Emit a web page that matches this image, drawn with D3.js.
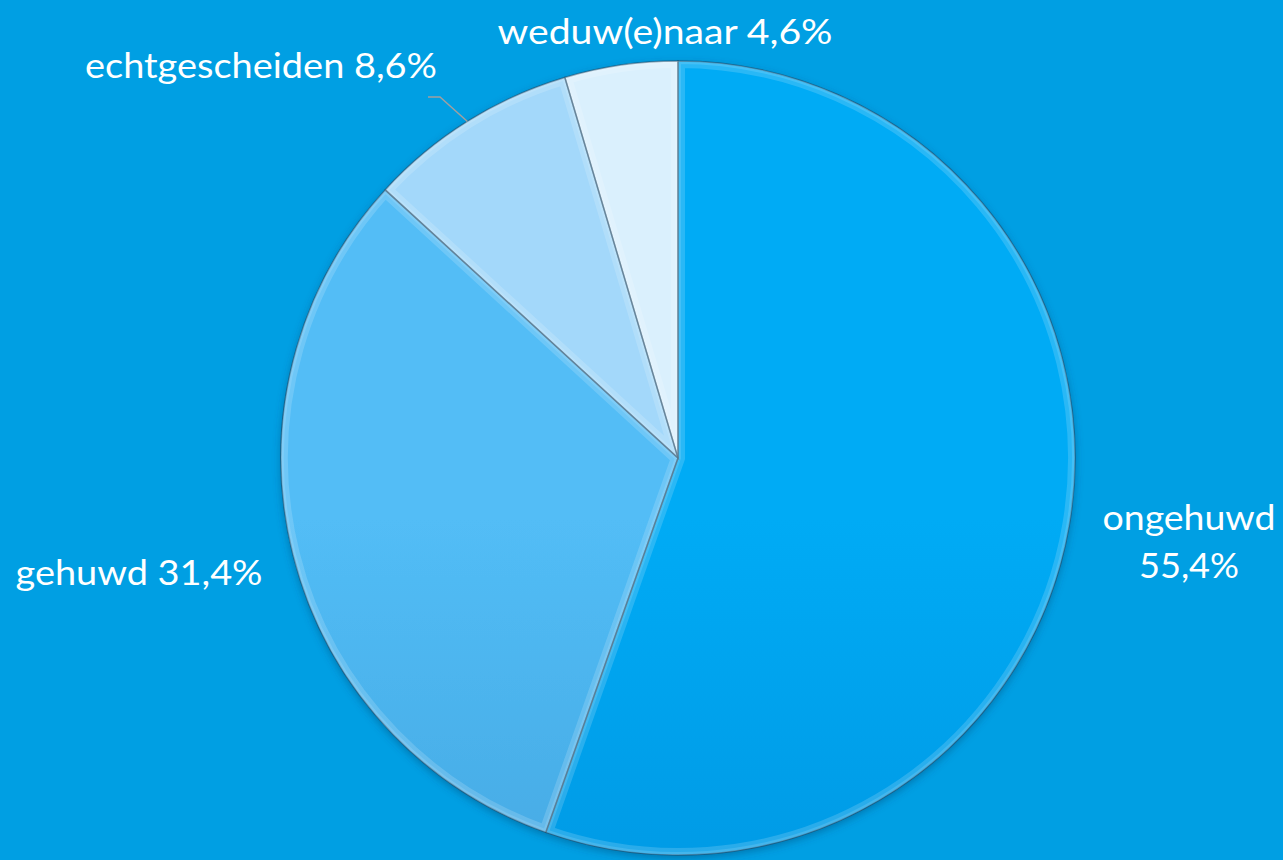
<!DOCTYPE html>
<html><head><meta charset="utf-8">
<script src="https://cdn.jsdelivr.net/npm/d3@7"></script>
<style>html,body{margin:0;padding:0;background:#009FE3;}svg{display:block}</style>
</head><body>
<svg id="c" width="1283" height="860"></svg>
<script>
const categories = ["ongehuwd", "gehuwd", "echtgescheiden", "weduw(e)naar"];
const values = [55.4, 31.4, 8.6, 4.6];
const labels = ["ongehuwd 55,4%", "gehuwd 31,4%", "echtgescheiden 8,6%", "weduw(e)naar 4,6%"];
const topColors = ["#06ABF5", "#52BDF6", "#A3D8FA", "#DAF0FD"];
const bottomColors = ["#0386D2", "#3894CF", "#88B9E2", "#AFC6DA"];

const W = 1283, H = 860, cx = 678, cy = 458, R = 397;
const svg = d3.select("#c");
svg.append("rect").attr("width", W).attr("height", H).attr("fill", "#009FE3");
const defs = svg.append("defs");

categories.forEach((c, i) => {
  const g = defs.append("linearGradient").attr("id", "g" + i)
    .attr("gradientUnits", "userSpaceOnUse")
    .attr("x1", 0).attr("y1", cy - R).attr("x2", 0).attr("y2", cy + R);
  g.append("stop").attr("offset", "0%").attr("stop-color", topColors[i]);
  g.append("stop").attr("offset", "100%").attr("stop-color", bottomColors[i]);
});
const f = defs.append("filter").attr("id", "sh").attr("x", "-10%").attr("y", "-10%").attr("width", "120%").attr("height", "120%");
f.append("feGaussianBlur").attr("in", "SourceAlpha").attr("stdDeviation", 4);
f.append("feOffset").attr("dx", 0).attr("dy", 3).attr("result", "b");
f.append("feFlood").attr("flood-color", "#00406a").attr("flood-opacity", 0.45);
f.append("feComposite").attr("in2", "b").attr("operator", "in").attr("result", "s");
const m = f.append("feMerge"); m.append("feMergeNode").attr("in", "s"); m.append("feMergeNode").attr("in", "SourceGraphic");

const pie = d3.pie().sort(null).value(d => d)(values);
const arc = d3.arc().innerRadius(0).outerRadius(R);
const g = svg.append("g").attr("transform", `translate(${cx},${cy})`);

pie.forEach((p, i) => {
  defs.append("clipPath").attr("id", "cp" + i).append("path").attr("d", arc(p)).attr("transform", `translate(${cx},${cy})`);
});

const sg = g.append("g").attr("filter", "url(#sh)");
sg.selectAll("path.s").data(pie).join("path").attr("class", "s")
  .attr("d", arc).attr("fill", (d, i) => `url(#g${i})`);

// bevel highlight inside each slice
pie.forEach((p, i) => {
  svg.append("g").attr("clip-path", `url(#cp${i})`)
    .append("path").attr("transform", `translate(${cx},${cy})`)
    .attr("d", arc(p)).attr("fill", "none")
    .attr("stroke", "#ffffff").attr("stroke-opacity", 0.16).attr("stroke-width", 14);
  svg.append("g").attr("clip-path", `url(#cp${i})`)
    .append("path").attr("transform", `translate(${cx},${cy})`)
    .attr("d", arc(p)).attr("fill", "none")
    .attr("stroke", "#ffffff").attr("stroke-opacity", 0.12).attr("stroke-width", 6);
});
g.selectAll("path.e").data(pie).join("path").attr("class", "e")
  .attr("d", arc).attr("fill", "none").attr("stroke", "#234a66").attr("stroke-opacity", 0.6).attr("stroke-width", 1.5);

// leader line for echtgescheiden
const lp = d3.arc().innerRadius(R).outerRadius(R).centroid(pie[2]);
const lineData = [[428, 97], [440, 97], [cx + lp[0], cy + lp[1]]];
svg.append("path").attr("d", d3.line()(lineData)).attr("fill", "none")
  .attr("stroke", "#a0a0a0").attr("stroke-width", 1.5);

const font = "Lato, 'Open Sans', sans-serif";
const txt = svg.append("g").attr("fill", "#ffffff").attr("font-family", font).attr("font-size", 35);
const pos = [
  { lines: ["ongehuwd", "55,4%"], x: 1189, y: [530, 578] },
  { lines: [labels[1]], x: 139, y: [585] },
  { lines: [labels[2]], x: 261, y: [78] },
  { lines: [labels[3]], x: 665, y: [44] }
];
const widths = [[173, 100], [247], [352], [335]];
pos.forEach((p, i) => {
  p.lines.forEach((l, j) => {
    txt.append("text").attr("x", p.x).attr("y", p.y[j]).attr("text-anchor", "middle")
      .attr("textLength", widths[i][j]).attr("lengthAdjust", "spacingAndGlyphs").text(l);
  });
});
</script>
</body></html>
